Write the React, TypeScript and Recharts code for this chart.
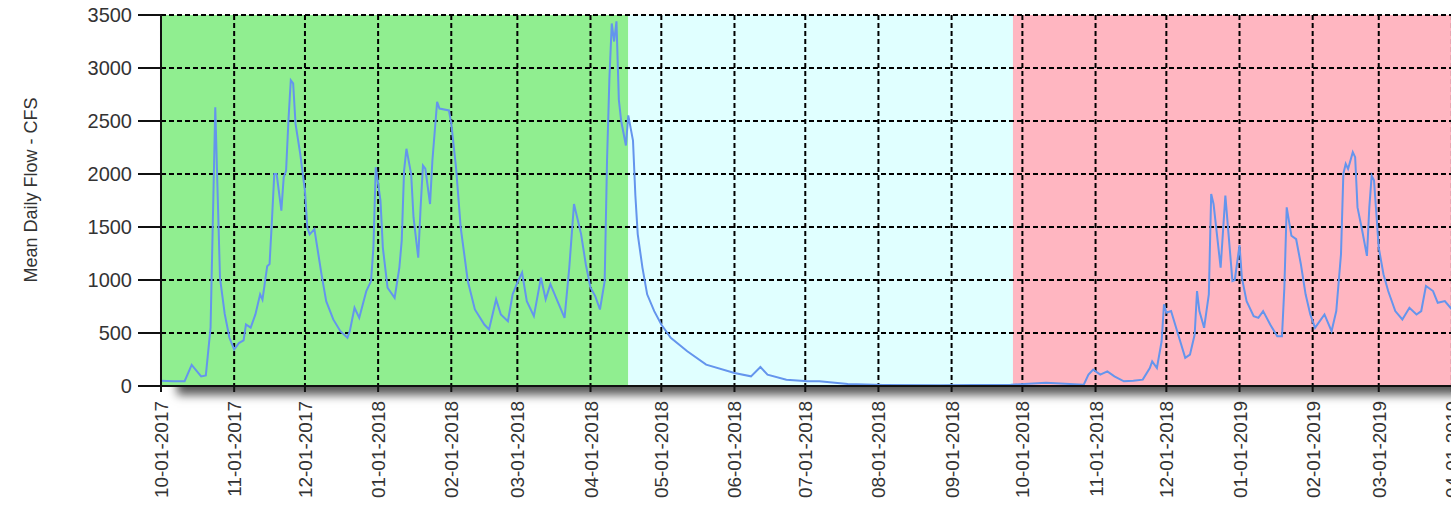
import {
  CartesianGrid,
  Line,
  LineChart,
  ReferenceArea,
  XAxis,
  YAxis,
} from 'recharts'

// mean daily flow (cfs), keyed by days since 10-01-2017
const flowReadings: Array<[number, number]> = [
  [0, 50], [5, 45], [10, 45], [13, 200], [17, 90], [19, 100], [21, 550], [23, 2630],
  [24, 1815], [25, 1020], [27, 680], [29, 455], [31, 345], [33, 405], [35, 430],
  [36, 580], [38, 550], [40, 675], [42, 865], [43, 815], [45, 1130], [46, 1150],
  [47, 1560], [48, 2000], [49, 2000], [51, 1655], [52, 1970], [53, 2030], [54, 2505],
  [55, 2885], [56, 2855], [57, 2475], [59, 2190], [61, 1840], [62, 1495], [63, 1430],
  [65, 1480], [68, 1055], [70, 800], [73, 628], [76, 517], [79, 455], [80, 517],
  [82, 738], [84, 643], [87, 896], [89, 990], [90, 1305], [91, 2064], [93, 1748],
  [94, 1306], [96, 927], [99, 832], [101, 1117], [102, 1370], [103, 2032], [104, 2238],
  [106, 2000], [107, 1590], [109, 1211], [110, 1685], [111, 2080], [112, 2050],
  [114, 1717], [115, 2127], [117, 2680], [118, 2617], [122, 2600], [123, 2475],
  [125, 2064], [127, 1495], [130, 990], [133, 722], [137, 580], [139, 533], [142, 817],
  [144, 675], [147, 612], [149, 865], [151, 975], [153, 1070], [155, 800], [158, 659],
  [161, 1022], [163, 817], [165, 960], [168, 800], [171, 643], [173, 1117], [175, 1717],
  [178, 1433], [180, 1149], [182, 927], [184, 848], [186, 722], [188, 990], [189, 2127],
  [190, 2900], [191, 3420], [192, 3250], [193, 3440], [194, 2700], [195, 2500],
  [197, 2269], [198, 2553], [200, 2316], [201, 1800], [202, 1433], [204, 1117],
  [206, 865], [209, 706], [212, 580], [216, 454], [223, 328], [231, 202], [243, 122],
  [250, 91], [254, 179], [257, 107], [265, 60], [274, 44], [279, 44], [291, 18],
  [306, 10], [330, 8], [360, 12], [375, 30], [391, 12], [393, 107], [395, 154],
  [398, 107], [401, 138], [404, 91], [408, 44], [412, 50], [416, 60], [419, 170],
  [420, 233], [422, 170], [424, 422], [425, 770], [426, 691], [428, 707], [431, 486],
  [434, 265], [436, 296], [438, 486], [439, 896], [440, 707], [442, 549], [444, 865],
  [445, 1812], [446, 1717], [449, 1117], [451, 1796], [452, 1527], [454, 990],
  [455, 1000], [457, 1330], [458, 1022], [460, 801], [463, 659], [465, 643], [467, 707],
  [470, 580], [473, 470], [475, 470], [476, 927], [477, 1685], [479, 1417], [481, 1385],
  [483, 1149], [485, 865], [487, 675], [489, 549], [491, 612], [493, 675], [496, 517],
  [498, 707], [500, 1243], [501, 2000], [502, 2096], [503, 2048], [505, 2206],
  [506, 2159], [507, 1685], [509, 1464], [511, 1227], [512, 1685], [513, 1985],
  [514, 1938], [516, 1306], [518, 1054], [520, 896], [523, 707], [526, 628], [529, 738],
  [532, 675], [534, 707], [536, 943], [539, 896], [541, 785], [544, 801], [547, 722],
  [550, 760],
]

const monthTicks = [
  '10-01-2017', '11-01-2017', '12-01-2017', '01-01-2018', '02-01-2018', '03-01-2018',
  '04-01-2018', '05-01-2018', '06-01-2018', '07-01-2018', '08-01-2018', '09-01-2018',
  '10-01-2018', '11-01-2018', '12-01-2018', '01-01-2019', '02-01-2019', '03-01-2019',
  '04-01-2019',
]

const flowTicks = [0, 500, 1000, 1500, 2000, 2500, 3000, 3500]

// shaded periods (start, end)
const seasonBands: Array<[string, string]> = [
  ['10-01-2017', '04-17-2018'],
  ['04-17-2018', '09-27-2018'],
  ['09-27-2018', '04-23-2019'],
]
const bandColors = ['#90EE90', '#E0FFFF', '#FFB6C1']

const START = Date.UTC(2017, 9, 1)
const toDay = (s: string) => {
  const [m, d, y] = s.split('-').map(Number)
  return Math.round((Date.UTC(y, m - 1, d) - START) / 86400000)
}

const endDay = toDay(seasonBands[seasonBands.length - 1][1])
const tickDays = monthTicks.map(toDay)
const tickLabel = new Map(monthTicks.map((t) => [toDay(t), t]))
const data = flowReadings.map(([day, cfs]) => ({ day, cfs }))

const FONT = '"Liberation Sans", Arial, sans-serif'
const PX_PER_DAY = 2.36
const LEFT = 161
const TOP = 15
const AXIS_H = 125
const HEIGHT = 511
const plotW = endDay * PX_PER_DAY
const chartW = LEFT + plotW + 10

const XTick = ({ x, y, payload }: any) => (
  <g transform={`translate(${x},${y})`}>
    <text
      transform="rotate(-90)"
      x={-9}
      y={7}
      textAnchor="end"
      fontSize={19}
      fontFamily={FONT}
      fill="#333"
    >
      {tickLabel.get(payload.value)}
    </text>
  </g>
)

export default function App() {
  return (
    <div
      style={{
        position: 'fixed',
        left: 0,
        top: 0,
        width: 1451,
        height: HEIGHT,
        overflow: 'hidden',
        background: '#fff',
      }}
    >
      {/* drop shadow under the plot area */}
      <div
        style={{
          position: 'absolute',
          left: LEFT,
          top: TOP,
          width: plotW,
          height: HEIGHT - TOP - AXIS_H,
          boxShadow: '16px 9px 9px rgba(0,0,0,0.65)',
          background: '#fff',
        }}
      />
      <svg
        width={60}
        height={HEIGHT}
        style={{ position: 'absolute', left: 0, top: 0 }}
      >
        <text
          transform="translate(37,190) rotate(-90)"
          textAnchor="middle"
          fontSize={18}
          fontFamily={FONT}
          fill="#333"
        >
          Mean Daily Flow - CFS
        </text>
      </svg>
      <div style={{ position: 'absolute', left: 0, top: 0 }}>
        <LineChart
          width={chartW}
          height={HEIGHT}
          data={data}
          margin={{ top: TOP, right: 10, bottom: 0, left: 0 }}
        >
          {seasonBands.map(([from, to], i) => (
            <ReferenceArea
              key={from}
              x1={toDay(from)}
              x2={toDay(to)}
              y1={0}
              y2={3500}
              fill={bandColors[i]}
              fillOpacity={1}
              stroke="none"
              zIndex={-200}
            />
          ))}
          <CartesianGrid
            stroke="#000"
            strokeDasharray="5 3"
            strokeWidth={2}
            zIndex={150}
          />
          <XAxis
            dataKey="day"
            type="number"
            domain={[0, endDay]}
            ticks={tickDays}
            allowDataOverflow
            height={AXIS_H}
            tickSize={6}
            tickMargin={0}
            tick={<XTick />}
            axisLine={{ stroke: '#111', strokeWidth: 2 }}
            tickLine={{ stroke: '#111', strokeWidth: 2 }}
          />
          <YAxis
            type="number"
            domain={[0, 3500]}
            ticks={flowTicks}
            width={LEFT}
            tickSize={23}
            tickMargin={6}
            tick={{ fill: '#333', fontSize: 20, fontFamily: FONT }}
            axisLine={{ stroke: '#111', strokeWidth: 2 }}
            tickLine={{ stroke: '#111', strokeWidth: 2 }}
          />
          <Line
            type="linear"
            dataKey="cfs"
            stroke="#6495ED"
            strokeWidth={2}
            dot={false}
            isAnimationActive={false}
          />
        </LineChart>
      </div>
    </div>
  )
}
